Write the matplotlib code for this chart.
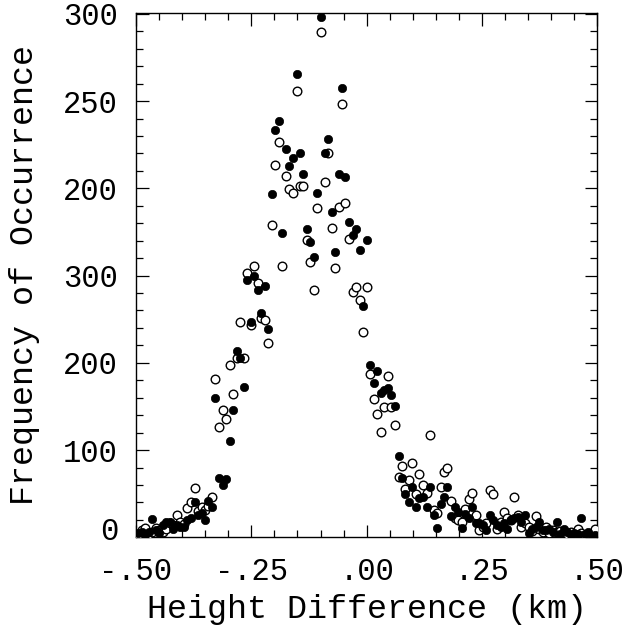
import matplotlib
matplotlib.use("Agg")
import matplotlib.pyplot as plt
from matplotlib.ticker import FixedLocator, MultipleLocator
from matplotlib.transforms import ScaledTranslation

# bin centres (km), 25 ft bins
height_km = [
    -0.495, -0.488, -0.480, -0.472, -0.465, -0.457, -0.450, -0.442, -0.434, -0.427,
    -0.419, -0.412, -0.404, -0.396, -0.389, -0.381, -0.373, -0.366, -0.358, -0.351,
    -0.343, -0.335, -0.328, -0.320, -0.312, -0.305, -0.297, -0.290, -0.282, -0.274,
    -0.267, -0.259, -0.251, -0.244, -0.236, -0.229, -0.221, -0.213, -0.206, -0.198,
    -0.191, -0.183, -0.175, -0.168, -0.160, -0.152, -0.145, -0.137, -0.130, -0.122,
    -0.114, -0.107, -0.099, -0.091, -0.084, -0.076, -0.069, -0.061, -0.053, -0.046,
    -0.038, -0.030, -0.023, -0.015, -0.008, 0.000, 0.008, 0.015, 0.023, 0.030,
    0.038, 0.046, 0.053, 0.061, 0.069, 0.076, 0.084, 0.091, 0.099, 0.107,
    0.114, 0.122, 0.130, 0.137, 0.145, 0.152, 0.160, 0.168, 0.175, 0.183,
    0.191, 0.198, 0.206, 0.213, 0.221, 0.229, 0.236, 0.244, 0.251, 0.259,
    0.267, 0.274, 0.282, 0.290, 0.297, 0.305, 0.312, 0.320, 0.328, 0.335,
    0.343, 0.351, 0.358, 0.366, 0.373, 0.381, 0.389, 0.396, 0.404, 0.412,
    0.419, 0.427, 0.434, 0.442, 0.450, 0.457, 0.465, 0.472, 0.480, 0.488,
    0.495,
]

# filled circles
freq_filled = [
    5, 6, 3, 6, 21, 8, 5, 14, 18, 18,
    10, 14, 12, 12, 20, 22, 41, 26, 28, 20,
    42, 35, 160, 68, 60, 67, 110, 146, 213, 206,
    172, 295, 247, 300, 284, 257, 288, 239, 393, 467,
    477, 349, 445, 426, 435, 531, 441, 417, 353, 339,
    321, 395, 597, 441, 457, 373, 327, 417, 515, 413,
    361, 347, 353, 329, 265, 341, 197, 177, 191, 165,
    169, 171, 163, 151, 93, 68, 50, 41, 58, 35,
    45, 46, 35, 58, 25, 11, 38, 46, 58, 24,
    35, 29, 11, 27, 22, 35, 16, 16, 14, 8,
    25, 20, 14, 12, 16, 9, 20, 22, 23, 17,
    25, 5, 10, 12, 17, 8, 8, 10, 6, 18,
    4, 10, 6, 3, 5, 4, 22, 4, 6, 2,
    3,
]

# open circles
freq_open = [
    3, 8, 11, 4, 6, 11, 8, 6, 10, 16,
    14, 26, 18, 15, 34, 41, 56, 30, 35, 31,
    36, 46, 182, 126, 146, 136, 198, 164, 206, 247,
    206, 303, 243, 311, 292, 251, 249, 223, 358, 427,
    453, 311, 414, 399, 395, 512, 403, 403, 341, 316,
    283, 377, 579, 407, 441, 355, 309, 379, 497, 383,
    342, 281, 287, 272, 235, 287, 187, 159, 141, 121,
    149, 185, 149, 129, 69, 82, 55, 66, 85, 50,
    73, 60, 51, 117, 31, 28, 58, 75, 79, 42,
    22, 20, 18, 33, 44, 51, 26, 8, 12, 16,
    54, 50, 10, 18, 29, 22, 20, 46, 25, 12,
    16, 12, 7, 24, 10, 6, 12, 5, 8, 6,
    7, 5, 4, 6, 3, 9, 5, 3, 4, 5,
    9,
]

x_ticks = [-0.50, -0.25, 0.00, 0.25, 0.50]
x_tick_labels = ["-.50", "-.25", ".00", ".25", ".50"]
y_ticks = [0, 100, 200, 300, 400, 500, 600]
y_tick_labels = ["0", "100", "200", "300", "200", "250", "300"]

plt.rcParams['font.family'] = ['Liberation Mono', 'DejaVu Sans Mono']

fig = plt.figure(figsize=(6.39, 6.26), dpi=100)
ax = fig.add_axes([0.2128, 0.1417, 0.7222, 0.8375])

ax.plot(height_km, freq_open, 'o', ms=6.2, mfc='white', mec='black', mew=1.0,
        linestyle='none', zorder=3)
ax.plot(height_km, freq_filled, 'o', ms=6.0, mfc='black', mec='black', mew=0.5,
        linestyle='none', zorder=4)

ax.set_xlim(-0.5, 0.5)
ax.set_ylim(0, 601)

ax.xaxis.set_major_locator(FixedLocator(x_ticks))
ax.set_xticklabels(x_tick_labels)
ax.xaxis.set_minor_locator(MultipleLocator(0.05))
ax.yaxis.set_major_locator(FixedLocator(y_ticks))
ax.set_yticklabels(y_tick_labels)
ax.yaxis.set_minor_locator(MultipleLocator(20))

ax.tick_params(which='both', direction='in', top=True, right=True, width=0.9)
ax.tick_params(which='major', length=9)
ax.tick_params(which='minor', length=5)
ax.tick_params(axis='x', which='major', labelsize=22, pad=14)
ax.tick_params(axis='y', which='major', labelsize=22, pad=13)

for s in ax.spines.values():
    s.set_linewidth(1.0)

ax.set_xlabel("Height Difference (km)", fontsize=24, labelpad=5)
ax.set_ylabel("Frequency of Occurrence", fontsize=24, labelpad=17)

# the "0" label sits a bit above the axis line in the original
zero_lab = ax.get_yticklabels()[0]
zero_lab.set_transform(zero_lab.get_transform() + ScaledTranslation(0, 9 / 100, fig.dpi_scale_trans))

fig.savefig("out.png", dpi=100)
